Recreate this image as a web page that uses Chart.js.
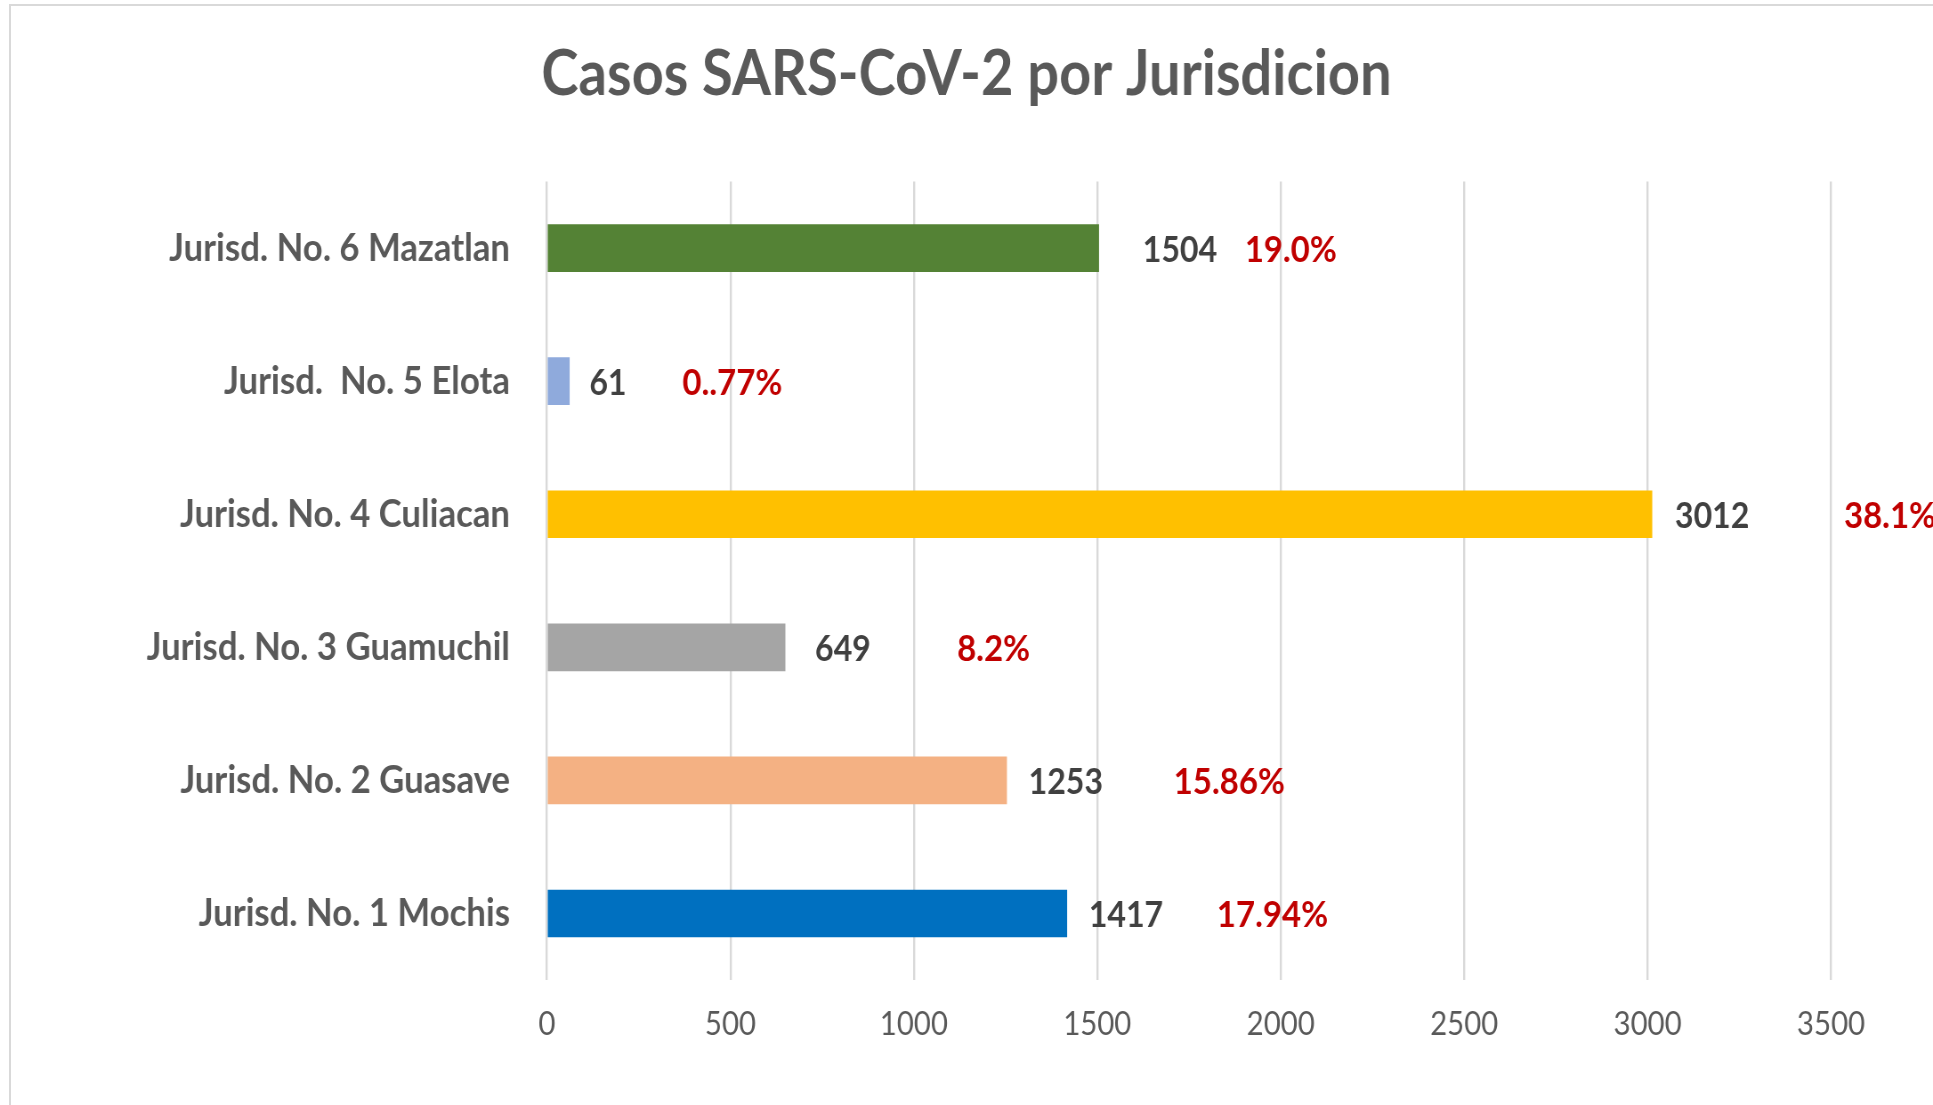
<!DOCTYPE html>
<html>
<head>
<meta charset="utf-8">
<title>Casos SARS-CoV-2 por Jurisdicion</title>
<script src="https://cdn.jsdelivr.net/npm/chart.js"></script>
<style>
  html, body { margin: 0; padding: 0; background: #fff; overflow: hidden; }
  #marco { position: absolute; left: 9px; top: 4px; width: 1940px; height: 1120px;
           border-top: 2px solid #d9d9d9; border-left: 2px solid #d9d9d9; }
  #grafica { position: absolute; left: 0; top: 0; }
</style>
</head>
<body>
<div id="marco"></div>
<canvas id="grafica"></canvas>
<script>
// datos de la grafica
var jurisdicciones = [
  'Jurisd. No. 6 Mazatlan',
  'Jurisd.  No. 5 Elota',
  'Jurisd. No. 4 Culiacan',
  'Jurisd. No. 3 Guamuchil',
  'Jurisd. No. 2 Guasave',
  'Jurisd. No. 1 Mochis'
];
var casos = [1504, 61, 3012, 649, 1253, 1417];
var porcentajes = ['19.0%', '0..77%', '38.1%', '8.2%', '15.86%', '17.94%'];
var colores = ['#548235', '#8faadc', '#ffc000', '#a5a5a5', '#f4b183', '#0070c0'];
var ticksX = [0, 500, 1000, 1500, 2000, 2500, 3000, 3500];

// el original esta comprimido a lo ancho, se dibuja mas ancho y se encoge con css
var ANCHO = 1933, ALTO = 1105, COMPRIME = 0.89;
var canvas = document.getElementById('grafica');
canvas.width = Math.round(ANCHO / COMPRIME);
canvas.height = ALTO;
canvas.style.width = ANCHO + 'px';
canvas.style.height = ALTO + 'px';

// el eje sigue mas alla del borde derecho (la imagen original esta recortada)
var ejeIzq = 547, eje3500 = 1831;
var maxX = ticksX[ticksX.length - 1] * (ANCHO - ejeIzq) / (eje3500 - ejeIzq);

Chart.defaults.font.family = 'Lato';

//etiquetas con el numero de casos y el porcentaje
var etiquetas = {
  id: 'etiquetas',
  afterDatasetsDraw: function(chart, args, opts) {
    var ctx = chart.ctx;
    var meta = chart.getDatasetMeta(0);
    ctx.save();
    ctx.textBaseline = 'middle';
    ctx.textAlign = 'left';
    meta.data.forEach(function(bar, i) {
      ctx.font = 'bold 36px Lato';
      ctx.fillStyle = '#404040';
      ctx.fillText(String(casos[i]), bar.x + opts.espacioValor[i] / COMPRIME, bar.y + 2);
      ctx.font = 'bold 37px Lato';
      ctx.fillStyle = '#c00000';
      ctx.fillText(porcentajes[i], bar.x + opts.espacioPct[i] / COMPRIME, bar.y + 2);
    });
    ctx.restore();
  }
};

var grafica = new Chart(canvas, {
  type: 'bar',
  data: {
    labels: jurisdicciones,
    datasets: [{
      data: casos,
      backgroundColor: colores,
      borderWidth: 0,
      barThickness: 47
    }]
  },
  options: {
    indexAxis: 'y',
    responsive: false,
    devicePixelRatio: 1,
    animation: false,
    events: [],
    layout: { padding: 0 },
    plugins: {
      legend: { display: false },
      tooltip: { enabled: false },
      title: {
        display: true,
        text: 'Casos SARS-CoV-2 por Jurisdicion',
        color: '#595959',
        font: { size: 63, weight: 'bold' },
        padding: { top: 37, bottom: 69 }
      },
      etiquetas: {
        espacioValor: [44, 20, 23, 30, 22, 22],
        espacioPct: [146, 113, 192, 172, 167, 150]
      }
    },
    scales: {
      x: {
        min: ticksX[0],
        max: maxX,
        afterBuildTicks: function(scale) {
          scale.ticks = ticksX.map(function(v) { return { value: v }; });
        },
        ticks: {
          color: '#595959',
          font: { size: 33 },
          padding: 25,
          callback: function(v) { return String(v); }
        },
        grid: { color: '#d9d9d9', lineWidth: 2.4, drawTicks: false },
        border: { display: false },
        afterFit: function(scale) { scale.height = 125; }
      },
      y: {
        ticks: {
          color: '#595959',
          font: { size: 39, weight: 'bold' },
          padding: 37 / COMPRIME
        },
        grid: { display: false, drawTicks: false },
        border: { display: false },
        afterFit: function(scale) { scale.width = ejeIzq / COMPRIME; }
      }
    }
  },
  plugins: [etiquetas]
});
</script>
</body>
</html>
